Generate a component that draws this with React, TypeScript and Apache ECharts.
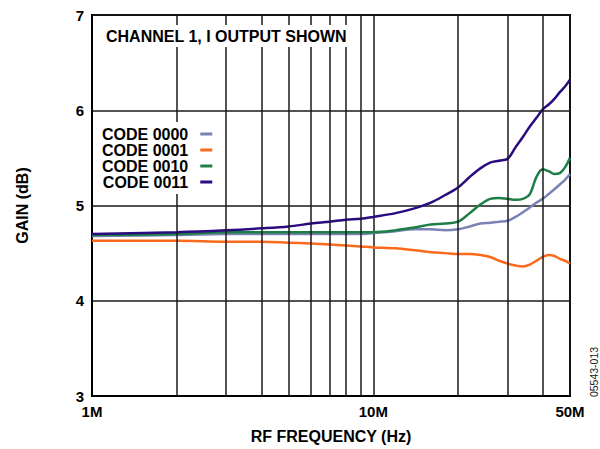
import React, { useEffect, useRef } from "react";
import * as echarts from "echarts";

// Frequencies in MHz
const freqMHz = [1, 2, 3, 4, 5, 6, 7, 8, 9, 10, 12, 14, 16, 18, 20, 22, 24, 26, 28, 30, 32, 34, 36, 38, 40, 42, 44, 46, 48, 50];

const code0000 = [4.68, 4.69, 4.70, 4.70, 4.70, 4.70, 4.70, 4.70, 4.70, 4.71, 4.73, 4.75, 4.75, 4.74, 4.75, 4.78, 4.81, 4.82, 4.83, 4.84, 4.88, 4.93, 4.98, 5.03, 5.07, 5.12, 5.17, 5.22, 5.27, 5.33];
const code0001 = [4.63, 4.63, 4.62, 4.62, 4.61, 4.60, 4.59, 4.58, 4.57, 4.56, 4.55, 4.53, 4.51, 4.50, 4.49, 4.49, 4.48, 4.46, 4.42, 4.39, 4.37, 4.36, 4.38, 4.42, 4.46, 4.48, 4.47, 4.44, 4.42, 4.39];
const code0010 = [4.69, 4.70, 4.72, 4.72, 4.72, 4.72, 4.72, 4.72, 4.72, 4.72, 4.74, 4.77, 4.80, 4.81, 4.83, 4.92, 5.01, 5.07, 5.08, 5.07, 5.06, 5.07, 5.12, 5.30, 5.38, 5.36, 5.33, 5.34, 5.40, 5.50];
const code0011 = [4.70, 4.72, 4.74, 4.76, 4.78, 4.81, 4.83, 4.85, 4.86, 4.88, 4.92, 4.97, 5.03, 5.11, 5.19, 5.30, 5.39, 5.45, 5.47, 5.49, 5.61, 5.72, 5.83, 5.92, 6.01, 6.06, 6.12, 6.19, 6.25, 6.32];

const seriesNames = ["CODE 0000", "CODE 0001", "CODE 0010", "CODE 0011"];
const seriesColors = ["#7a82b6", "#fb6a1a", "#1c7f45", "#2a0c80"];
const seriesValues = [code0000, code0001, code0010, code0011];

// Vertical grid lines (MHz), decade line at 10M comes from the axis split line
const gridFreqMHz = [2, 3, 4, 5, 6, 7, 8, 9, 20, 30, 40];

const yTicks = [3, 4, 5, 6, 7];
const titleText = "CHANNEL 1, I OUTPUT SHOWN";
const xName = "RF FREQUENCY (Hz)";
const yName = "GAIN (dB)";
const figId = "05543-013";

const FONT = "Liberation Sans, Arial, Helvetica, sans-serif";

export default function App() {
  const ref = useRef<HTMLDivElement>(null);

  useEffect(() => {
    if (!ref.current) return;
    const chart = echarts.init(ref.current, undefined, { renderer: "svg" });

    const lineSeries = seriesNames.map((name, i) => ({
      name,
      type: "line",
      data: freqMHz.map((f, j) => [f * 1e6, seriesValues[i][j]]),
      smooth: 0.35,
      symbol: "none",
      lineStyle: { color: seriesColors[i], width: 2.5 },
      itemStyle: { color: seriesColors[i] },
      z: 3,
    }));

    const option: any = {
      animation: false,
      textStyle: { fontFamily: FONT },
      title: {
        text: titleText,
        left: 103,
        top: 25,
        padding: [3, 3, 3, 3],
        backgroundColor: "#fff",
        textStyle: { fontFamily: FONT, fontSize: 16, fontWeight: "bold", color: "#000", lineHeight: 16 },
        z: 10,
      },
      legend: {
        data: seriesNames,
        orient: "vertical",
        left: 98,
        top: 122,
        align: "right",
        itemWidth: 12,
        itemHeight: 3,
        itemGap: 0,
        icon: "rect",
        padding: [4, 4, 4, 4],
        backgroundColor: "#fff",
        textStyle: {
          fontFamily: FONT,
          fontSize: 16,
          fontWeight: "bold",
          color: "#000",
          lineHeight: 16,
          padding: [0, 7, 0, 0],
        },
        z: 10,
      },
      grid: {
        left: 92,
        right: 30,
        top: 15,
        bottom: 51,
        show: true,
        borderColor: "#000",
        borderWidth: 2,
        backgroundColor: "transparent",
      },
      xAxis: {
        type: "log",
        logBase: 10,
        min: 1e6,
        max: 5e7,
        name: xName,
        nameLocation: "middle",
        nameGap: 32,
        nameTextStyle: { fontFamily: FONT, fontSize: 16, fontWeight: "bold", color: "#000" },
        axisLine: { show: true, lineStyle: { color: "#000", width: 2 } },
        axisTick: { show: false },
        axisLabel: {
          fontFamily: FONT,
          fontSize: 15,
          fontWeight: "bold",
          color: "#000",
          margin: 8,
          formatter: (v: number) => `${Math.round(v / 1e6)}M`,
        },
        splitLine: { show: true, lineStyle: { color: "#1a1a1a", width: 1.5 } },
      },
      yAxis: {
        type: "value",
        min: yTicks[0],
        max: yTicks[yTicks.length - 1],
        interval: 1,
        name: yName,
        nameLocation: "middle",
        nameGap: 62,
        nameTextStyle: { fontFamily: FONT, fontSize: 16, fontWeight: "bold", color: "#000" },
        axisLine: { show: true, lineStyle: { color: "#000", width: 2 } },
        axisTick: { show: false },
        axisLabel: { fontFamily: FONT, fontSize: 15, fontWeight: "bold", color: "#000", margin: 8 },
        splitLine: { show: true, lineStyle: { color: "#1a1a1a", width: 1.5 } },
      },
      series: [
        {
          name: "grid",
          type: "line",
          data: [],
          silent: true,
          z: 1,
          markLine: {
            silent: true,
            symbol: "none",
            label: { show: false },
            lineStyle: { color: "#1a1a1a", width: 1.5, type: "solid" },
            data: gridFreqMHz.map((f) => ({ xAxis: f * 1e6 })),
          },
        },
        ...lineSeries,
      ],
      graphic: [
        {
          type: "text",
          x: 594,
          y: 372,
          rotation: Math.PI / 2,
          style: {
            text: figId,
            fontFamily: FONT,
            fontSize: 10.5,
            fill: "#222",
            textAlign: "center",
            textVerticalAlign: "middle",
          },
        },
      ],
    };

    chart.setOption(option);
    return () => chart.dispose();
  }, []);

  return (
    <div
      ref={ref}
      style={{ position: "fixed", left: 0, top: 0, width: 600, height: 449, background: "#fff" }}
    />
  );
}
